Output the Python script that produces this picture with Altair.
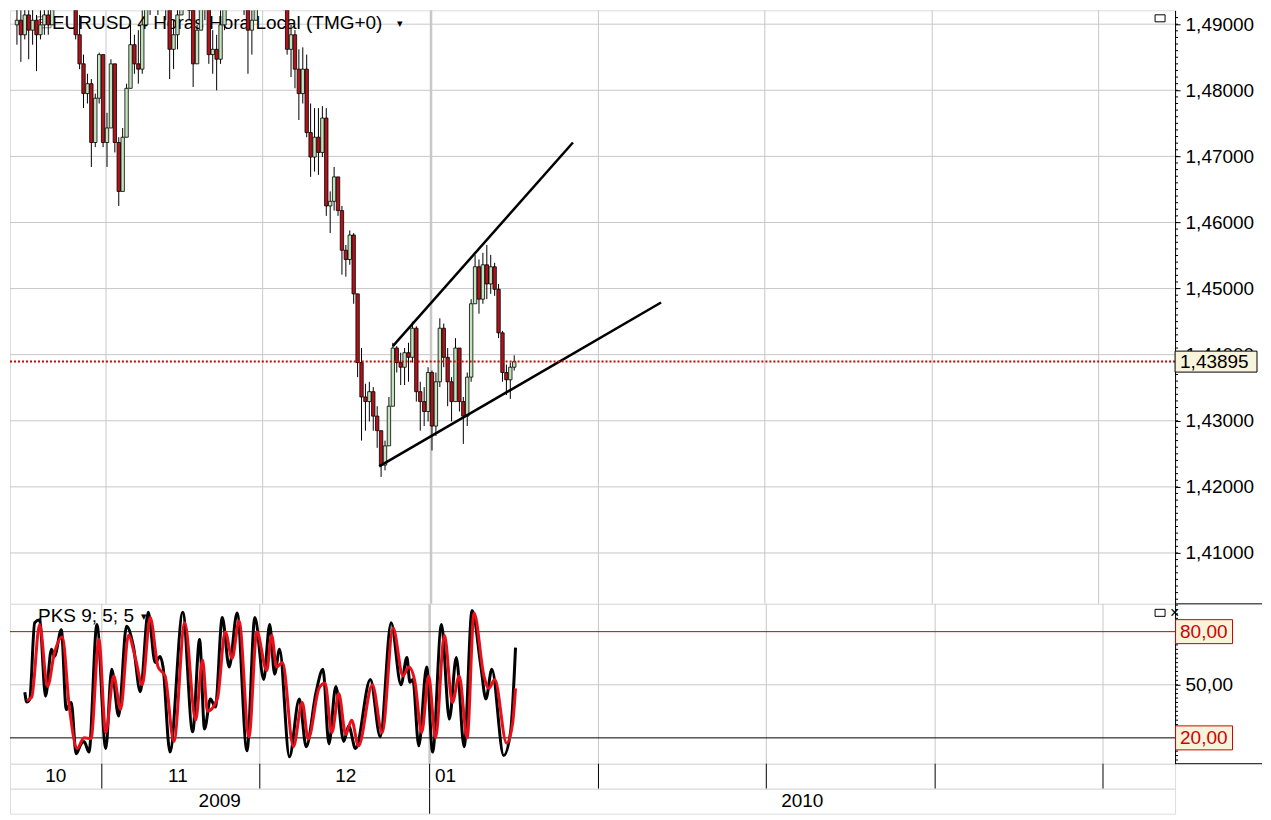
import altair as alt
import pandas as pd
import numpy as np

FONT = "Liberation Sans"
W = 1166
H_PRICE = 594
H_IND = 160
H_ROW = 25
XMAX = 295
RIGHT = 87

GREEN = "#c2e5bd"
RED = "#b3121a"
GRID = "#c8c8c8"
BOXFILL = "#f8f4dc"

# ---------------- price data (EURUSD, 4h candles, sampled) ----------------
open0 = 1.4899
close = [1.4906, 1.4884, 1.4914, 1.4891, 1.4906, 1.4884, 1.4899, 1.4914, 1.4899, 1.4936,
         1.4965, 1.4988, 1.5002, 1.4980, 1.4951, 1.4884, 1.4840, 1.4795, 1.4810, 1.4721,
         1.4788, 1.4854, 1.4721, 1.4743, 1.4840, 1.4721, 1.4647, 1.4729, 1.4803, 1.4869,
         1.4840, 1.4832, 1.4899, 1.4936, 1.4951, 1.4958, 1.4943, 1.4951, 1.4928, 1.4862,
         1.4884, 1.4914, 1.4943, 1.4958, 1.4921, 1.4840, 1.4891, 1.4928, 1.4936, 1.4854,
         1.4862, 1.4847, 1.4899, 1.4936, 1.4965, 1.4980, 1.4973, 1.4958, 1.4951, 1.4891,
         1.4906, 1.4951, 1.4980, 1.5002, 1.5017, 1.5010, 1.4995, 1.4973, 1.4943, 1.4862,
         1.4884, 1.4832, 1.4795, 1.4832, 1.4736, 1.4699, 1.4729, 1.4706, 1.4758, 1.4625,
         1.4632, 1.4669, 1.4618, 1.4558, 1.4544, 1.4581, 1.4492, 1.4388, 1.4336, 1.4329,
         1.4344, 1.4307, 1.4285, 1.4233, 1.4262, 1.4322, 1.4410, 1.4388, 1.4381, 1.4403,
         1.4396, 1.4440, 1.4344, 1.4329, 1.4314, 1.4373, 1.4292, 1.4359, 1.4440, 1.4396,
         1.4359, 1.4329, 1.4410, 1.4329, 1.4307, 1.4366, 1.4477, 1.4533, 1.4484, 1.4536,
         1.4507, 1.4533, 1.4499, 1.4433, 1.4373, 1.4362, 1.4381, 1.43895]
high = [1.4936, 1.4921, 1.4943, 1.4921, 1.4928, 1.4914, 1.4921, 1.4936, 1.4928, 1.4958,
        1.4988, 1.5010, 1.5025, 1.5010, 1.4988, 1.4958, 1.4914, 1.4854, 1.4825, 1.4817,
        1.4795, 1.4857, 1.4840, 1.4766, 1.4847, 1.4817, 1.4729, 1.4743, 1.4810, 1.4899,
        1.4884, 1.4891, 1.4921, 1.4958, 1.4973, 1.4980, 1.4965, 1.4980, 1.4958, 1.4936,
        1.4906, 1.4943, 1.4965, 1.4988, 1.4951, 1.4921, 1.4899, 1.4951, 1.4958, 1.4928,
        1.4891, 1.4884, 1.4921, 1.4958, 1.4995, 1.5010, 1.5002, 1.4988, 1.4980, 1.4943,
        1.4921, 1.4973, 1.5010, 1.5032, 1.5047, 1.5039, 1.5025, 1.5002, 1.4980, 1.4951,
        1.4899, 1.4891, 1.4862, 1.4865, 1.4854, 1.4780, 1.4773, 1.4773, 1.4776, 1.4773,
        1.4647, 1.4684, 1.4662, 1.4625, 1.4566, 1.4588, 1.4584, 1.4484, 1.4410, 1.4356,
        1.4359, 1.4351, 1.4322, 1.4270, 1.4270, 1.4336, 1.4418, 1.4413, 1.4403, 1.4410,
        1.4418, 1.4450, 1.4443, 1.4359, 1.4351, 1.4381, 1.4376, 1.4373, 1.4455, 1.4447,
        1.4410, 1.4366, 1.4425, 1.4410, 1.4336, 1.4373, 1.4484, 1.4551, 1.4544, 1.4554,
        1.4566, 1.4551, 1.4539, 1.4507, 1.4436, 1.4385, 1.4388, 1.4399]
low = [1.4869, 1.4843, 1.4877, 1.4847, 1.4869, 1.4829, 1.4877, 1.4884, 1.4884, 1.4906,
       1.4936, 1.4958, 1.4980, 1.4958, 1.4928, 1.4877, 1.4832, 1.4773, 1.4780, 1.4684,
       1.4714, 1.4780, 1.4714, 1.4684, 1.4743, 1.4706, 1.4625, 1.4677, 1.4729, 1.4803,
       1.4825, 1.4810, 1.4825, 1.4906, 1.4914, 1.4928, 1.4914, 1.4921, 1.4906, 1.4817,
       1.4832, 1.4862, 1.4914, 1.4928, 1.4906, 1.4805, 1.4862, 1.4891, 1.4906, 1.4840,
       1.4825, 1.4800, 1.4840, 1.4891, 1.4936, 1.4951, 1.4943, 1.4928, 1.4914, 1.4825,
       1.4854, 1.4921, 1.4951, 1.4973, 1.4988, 1.4980, 1.4965, 1.4943, 1.4921, 1.4854,
       1.4820, 1.4803, 1.4755, 1.4780, 1.4729, 1.4669, 1.4677, 1.4672, 1.4699, 1.4610,
       1.4584, 1.4618, 1.4610, 1.4521, 1.4518, 1.4536, 1.4477, 1.4366, 1.4270, 1.4285,
       1.4299, 1.4285, 1.4259, 1.4215, 1.4225, 1.4262, 1.4322, 1.4373, 1.4354, 1.4354,
       1.4359, 1.4388, 1.4329, 1.4285, 1.4292, 1.4299, 1.4255, 1.4277, 1.4351, 1.4381,
       1.4322, 1.4299, 1.4329, 1.4314, 1.4265, 1.4292, 1.4359, 1.4477, 1.4462, 1.4477,
       1.4484, 1.4492, 1.4489, 1.4425, 1.4359, 1.4339, 1.4333, 1.4376]
last_price = 1.43895

# trend lines (wedge)
trend_id = ["upper", "upper", "lower", "lower"]
trend_bar = [96.5, 142.5, 93.0, 165.0]
trend_price = [1.4413, 1.4721, 1.4231, 1.4479]

# ---------------- indicator (PKS 9;5;5) ----------------
pks_fast_bar = [3.75, 4.25, 5, 6.25, 7.5, 9, 10.5, 11.25, 13, 14.25, 15.5, 16.75, 18, 18.75, 20,
                22, 24.25, 25.75, 27.5, 29.5, 31.25, 33, 35, 36.75, 38, 38.75, 40.5, 43.75, 46.25,
                48, 49.25, 50.75, 52, 53.75, 55.5, 57.5, 60, 62, 64.25, 65.75, 67, 68.25, 70.75,
                73.25, 75, 77.5, 79.25, 80.75, 82.5, 84.5, 85.75, 87.5, 91.25, 93.75, 96.5, 99,
                100.5, 101.25, 102, 103.5, 105.5, 107, 109.25, 111.25, 113, 115, 117, 119.25,
                120.5, 122, 125, 126.75, 128]
pks_fast = [45.8, 40.2, 41.9, 85, 86.7, 43.5, 70, 66, 81, 36, 40, 11, 16.6, 18, 12, 84, 14, 58.7,
            32.3, 83, 71.6, 46, 91, 62.6, 66, 60, 12, 91, 23.4, 75.5, 25, 42, 37.4, 88, 60, 90.6,
            12.7, 88, 53, 84, 56, 70, 9.3, 42, 15, 45.8, 58.7, 16.6, 49, 18, 26.7, 14, 53, 20.6,
            85, 50, 65.4, 51.4, 53, 15.5, 60, 12, 84, 30.6, 65.4, 15, 92, 60, 42, 58.7, 10, 23.4, 71]
pks_slow_bar = [4.25, 5.5, 7.5, 9.5, 11.25, 13.25, 15, 17, 18.75, 20.5, 22.5, 24.25, 26.25, 28, 30,
                31.75, 33.5, 35.5, 37.5, 39.25, 41.5, 44.25, 47, 48.75, 50, 52.5, 54.5, 56.25, 58,
                60.5, 62.5, 65, 66.25, 67.5, 69, 71.75, 74, 75.5, 78.25, 79.75, 81.5, 83.25, 85,
                86.5, 88.25, 91.75, 94.25, 97, 99.5, 101, 102.5, 104.25, 106, 107.75, 110, 112,
                113.75, 115.75, 117.5, 120, 121.25, 122.75, 125.75, 127.25, 128]
pks_slow = [41, 43, 84, 49, 68, 77, 38, 14, 20, 19.5, 75.5, 23, 55, 36, 78, 65, 50, 88, 60, 55, 18,
            85, 30, 64, 35, 42, 80, 65, 86, 20.6, 80, 58, 78, 60, 62.6, 15, 40, 19.4, 48, 51, 23,
            45, 22, 30, 15.5, 50, 23, 82, 55, 60, 52, 23, 55, 20, 78, 40, 55, 20, 90.6, 55, 48, 53,
            17, 28, 48]

# ---------------- time axis ----------------
month_bounds = [23.25, 63.25, 106.25, 149, 191.5, 234.25, 276.75]
bound_kind = ["m", "m", "y", "m", "m", "m", "m"]
month_labels = ["10", "11", "12", "01"]
month_label_pos = [11.6, 42.5, 85.0, 110.3]
year_labels = ["2009", "2010"]
year_label_pos = [53.1, 200.6]
year_bounds = [106.25]

price_major = [1.41, 1.42, 1.43, 1.44, 1.45, 1.46, 1.47, 1.48, 1.49]
price_minor = [round(v / 1000, 3) for v in range(1403, 1492)]
ind_minor = [v / 2 for v in range(15, 191, 5)]

# ---------------- frames ----------------
opens = [open0] + close[:-1]
n = len(close)
candles = pd.DataFrame({"bar": [i + 0.5 for i in range(n)], "open": opens, "close": close,
                        "high": high, "low": low})
candles["hi"] = candles[["high", "open", "close"]].max(axis=1)
candles["lo"] = candles[["low", "open", "close"]].min(axis=1)
candles["dir"] = np.where(candles["close"] >= candles["open"], "up", "down")

xs = alt.Scale(domain=[0, XMAX], nice=False, zero=False)
X = alt.X("bar:Q", scale=xs, axis=None)
ys = alt.Scale(domain=[1.4023, 1.4921], nice=False, zero=False)
yi = alt.Scale(domain=[5.4, 95.7], nice=False, zero=False)

price_axis = alt.Axis(orient="right", values=price_major, grid=False, title=None,
                      labelExpr="replace(format(datum.value, '.5f'), '.', ',')",
                      labelFont=FONT, labelFontSize=19, labelColor="black",
                      labelPadding=5, tickSize=5, tickColor="black",
                      domainColor="black", labelOverlap=False, labelFlush=False)
ind_axis = alt.Axis(orient="right", values=[50], grid=False, title=None,
                    labelExpr="replace(format(datum.value, '.2f'), '.', ',')",
                    labelFont=FONT, labelFontSize=19, labelColor="black", labelPadding=5,
                    tickSize=5, tickColor="black", domainColor="black", labelOverlap=False,
                    labelFlush=False)


def YP(field):
    return alt.Y(field, scale=ys, axis=price_axis, title=None)


def YI(field):
    return alt.Y(field, scale=yi, axis=ind_axis, title=None)


bounds_df = pd.DataFrame({"bar": month_bounds, "kind": bound_kind})


def box_path(half_w, half_h):
    r = half_h / half_w
    return f"M-1,-{r:.4f}L1,-{r:.4f}L1,{r:.4f}L-1,{r:.4f}Z", (2 * half_w) ** 2


def txt(s, x, y, size=19, color="black", align="left", weight="normal"):
    return alt.Chart(pd.DataFrame({"t": [s]})).mark_text(
        align=align, baseline="middle", font=FONT, fontSize=size, color=color,
        fontWeight=weight).encode(x=alt.value(x), y=alt.value(y), text="t:N")


def icon_box(x, y, hw, hh, stroke="black", fill="white"):
    p, s = box_path(hw, hh)
    return alt.Chart(pd.DataFrame({"k": [0]})).mark_point(
        shape=p, size=s, filled=True, color=fill, stroke=stroke, strokeWidth=1, opacity=1
    ).encode(x=alt.value(x), y=alt.value(y))


# ================= price panel =================
grid_v = alt.Chart(bounds_df).mark_rule(color=GRID).encode(
    x=X, strokeWidth=alt.condition("datum.kind == 'y'", alt.value(2.5), alt.value(1)))
grid_h = alt.Chart(pd.DataFrame({"v": price_major})).mark_rule(color=GRID, strokeWidth=1).encode(
    y=YP("v:Q"))
minor_p = alt.Chart(pd.DataFrame({"v": price_minor})).mark_rule(color="black").encode(
    y=YP("v:Q"), x=alt.value(W), x2=alt.value(W + 3))

title = txt("EURUSD 4 Horas Hora Local (TMG+0)", 42, 13)
title_arrow = txt("▾", 387, 14, size=11)
fx_box = icon_box(34, 12, 7, 5.5, stroke="#808080", fill="#ffffff")
fx_txt = txt("FX", 34, 12, size=9, color="#c03030", align="center", weight="bold")
win_icon = icon_box(W - 15, 8, 5, 3.5)

wicks = alt.Chart(candles).mark_rule(color="black", strokeWidth=1, clip=True).encode(
    x=X, y=YP("lo:Q"), y2="hi:Q")
bodies = alt.Chart(candles).mark_bar(size=3.4, stroke="black", strokeWidth=0.8, clip=True).encode(
    x=X, y=YP("open:Q"), y2="close:Q",
    color=alt.Color("dir:N", scale=alt.Scale(domain=["up", "down"], range=[GREEN, RED]), legend=None))

trend = alt.Chart(pd.DataFrame({"id": trend_id, "bar": trend_bar, "p": trend_price})).mark_line(
    color="black", strokeWidth=2.5).encode(x=X, y=YP("p:Q"), detail="id:N")

last_df = pd.DataFrame({"p": [last_price], "t": ["1,43895"]})
last_line = alt.Chart(last_df).mark_rule(color="#d00000", strokeWidth=2, strokeDash=[2, 2]).encode(
    y=YP("p:Q"))
lp_path, lp_size = box_path(41, 10.5)
last_box = alt.Chart(last_df).mark_point(shape=lp_path, size=lp_size, filled=True, color=BOXFILL,
                                         stroke="black", strokeWidth=1, opacity=1).encode(
    x=alt.value(W + 41), y=YP("p:Q"))
last_txt = alt.Chart(last_df).mark_text(align="left", baseline="middle", font=FONT, fontSize=19,
                                        color="black").encode(
    x=alt.value(W + 5), y=YP("p:Q"), text="t:N")

price = alt.layer(grid_v, grid_h, minor_p, title, title_arrow, fx_box, fx_txt, win_icon,
                  wicks, bodies, trend, last_line, last_box, last_txt).properties(
    width=W, height=H_PRICE)

# ================= indicator panel =================
levels = pd.DataFrame({"v": [50, 80, 20], "c": ["g", "r", "k"]})
lvl = alt.Chart(levels).mark_rule(strokeWidth=1).encode(
    y=YI("v:Q"),
    color=alt.Color("c:N", scale=alt.Scale(domain=["g", "r", "k"], range=[GRID, "#d00000", "black"]),
                    legend=None))
grid_vi = alt.Chart(bounds_df).mark_rule(color=GRID).encode(
    x=X, strokeWidth=alt.condition("datum.kind == 'y'", alt.value(2.5), alt.value(1)))
minor_i = alt.Chart(pd.DataFrame({"v": ind_minor})).mark_rule(color="black").encode(
    y=YI("v:Q"), x=alt.value(W), x2=alt.value(W + 3))

fast = alt.Chart(pd.DataFrame({"bar": pks_fast_bar, "v": pks_fast})).mark_line(
    color="black", strokeWidth=3, interpolate="monotone").encode(x=X, y=YI("v:Q"))
slow = alt.Chart(pd.DataFrame({"bar": pks_slow_bar, "v": pks_slow})).mark_line(
    color="#e8101a", strokeWidth=3, interpolate="monotone").encode(x=X, y=YI("v:Q"))

pks_title = txt("PKS 9; 5; 5", 28, 12)
pks_arrow = txt("▾", 131, 13, size=11)
ind_win = icon_box(W - 15, 9, 5, 3.5)
ind_x = txt("×", W - 5, 9, size=16)

lvl_box_df = pd.DataFrame({"v": [80, 20], "t": ["80,00", "20,00"]})
lb_path, lb_size = box_path(28.5, 12)
lvl_box = alt.Chart(lvl_box_df).mark_point(shape=lb_path, size=lb_size, filled=True, color=BOXFILL,
                                           stroke="#d00000", strokeWidth=1, opacity=1).encode(
    x=alt.value(W + 29), y=YI("v:Q"))
lvl_txt = alt.Chart(lvl_box_df).mark_text(align="left", baseline="middle", font=FONT, fontSize=19,
                                          color="#d00000").encode(
    x=alt.value(W + 5), y=YI("v:Q"), text="t:N")
sep_top = alt.Chart(pd.DataFrame({"k": [0]})).mark_rule(color="black").encode(
    x=alt.value(W), x2=alt.value(W + RIGHT), y=alt.value(0))

ind = alt.layer(grid_vi, lvl, minor_i, fast, slow, pks_title, pks_arrow, ind_win, ind_x,
                lvl_box, lvl_txt, sep_top).properties(width=W, height=H_IND)

# ================= month row =================
m_bounds = alt.Chart(pd.DataFrame({"bar": month_bounds})).mark_rule(color="black").encode(
    x=X, y=alt.value(0), y2=alt.value(H_ROW))
m_text = alt.Chart(pd.DataFrame({"bar": month_label_pos, "t": month_labels})).mark_text(
    font=FONT, fontSize=19, baseline="middle", align="center").encode(
    x=X, y=alt.value(H_ROW / 2), text="t:N")
sep_m = alt.Chart(pd.DataFrame({"k": [0]})).mark_rule(color="black").encode(
    x=alt.value(W), x2=alt.value(W + RIGHT), y=alt.value(0))
mrow = alt.layer(m_bounds, m_text, sep_m).properties(width=W, height=H_ROW)

# ================= year row =================
y_bounds = alt.Chart(pd.DataFrame({"bar": year_bounds})).mark_rule(color="black").encode(
    x=X, y=alt.value(0), y2=alt.value(H_ROW))
y_text = alt.Chart(pd.DataFrame({"bar": year_label_pos, "t": year_labels})).mark_text(
    font=FONT, fontSize=19, baseline="middle", align="center").encode(
    x=X, y=alt.value(H_ROW / 2), text="t:N")
yrow = alt.layer(y_bounds, y_text).properties(width=W, height=H_ROW)

chart = alt.vconcat(price, ind, mrow, yrow, spacing=0, bounds="flush").resolve_scale(
    x="independent", y="independent", color="independent", strokeWidth="independent"
).properties(padding=0).configure_view(stroke="black", strokeWidth=1).configure(
    background="white", padding=0)

chart.save("out.html", embed_options={"renderer": "svg", "actions": False})
